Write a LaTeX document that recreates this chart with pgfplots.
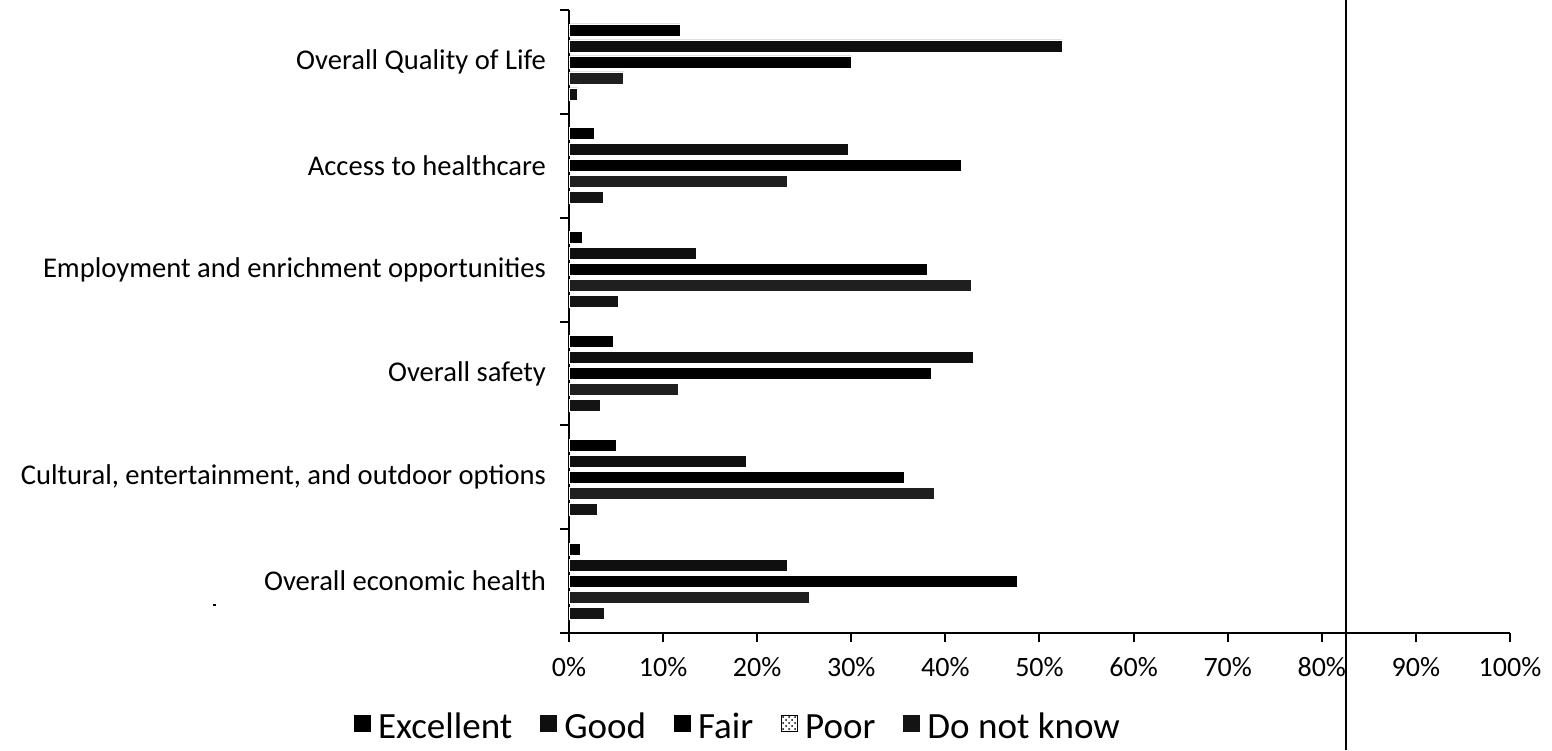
\documentclass[border=0pt]{standalone}
\usepackage{fontspec}
\setmainfont{Carlito}
\usepackage{pgfplots}
\pgfplotsset{compat=1.18}
\usepackage{pgfplotstable}
\usetikzlibrary{patterns}

% ratings, one row per topic (0 = top of chart), values in %
\pgfplotstableread{
idx excellent good fair poor dnk
0   11.8  52.4  30.0   5.8  0.9
1    2.7  29.7  41.7  23.2  3.7
2    1.4  13.5  38.1  42.8  5.3
3    4.7  43.0  38.5  11.6  3.3
4    5.0  18.9  35.6  38.8  3.0
5    1.2  23.2  47.7  25.5  3.8
}\ratings

\begin{document}
\begin{tikzpicture}
% whole picture: 1552x750 px at 0.5pt per px, axis corner at px (569,633)
\path[use as bounding box] (-284.5pt,-58.5pt) rectangle (491.5pt,316.5pt);
\begin{axis}[
    at={(0pt,0pt)}, anchor=south west,
    scale only axis,
    width=470.5pt, height=311.5pt,
    xbar=2pt, bar width=6pt,
    xmin=0, xmax=100,
    ymin=-0.5, ymax=5.5, y dir=reverse,
    axis x line*=bottom, axis y line*=left,
    axis line style={line width=1pt},
    tick align=outside,
    major tick length=4.5pt,
    tick style={line width=1pt, black},
    xtick={0,10,...,100},
    xticklabel={\pgfmathprintnumber{\tick}\%},
    x tick label style={font=\fontsize{14}{16}\selectfont, yshift=-4pt},
    /pgf/number format/assume math mode=true,
    ytick={-0.5,0.5,...,5.5},
    yticklabels={},
    extra y ticks={0,...,5},
    extra y tick labels={Overall Quality of Life, Access to healthcare, Employment and enrichment opportunities, Overall safety, {Cultural, entertainment, and outdoor options}, Overall economic health},
    extra y tick style={major tick length=0pt,
        yticklabel style={font=\fontsize{14.3}{16}\selectfont, xshift=-8pt}},
    every axis plot/.append style={draw=white, line width=0.4pt},
    legend style={at={(0.1796,-0.155)}, anchor=center, draw=none,
        inner sep=0pt, legend columns=-1, font=\fontsize{18.5}{20}\selectfont,
        nodes={text height=0.7em, text depth=0.2em, inner sep=1pt},
        /tikz/every odd column/.append style={column sep=2.5pt},
        /tikz/every even column/.append style={column sep=13pt}},
    legend image code/.code={\fill[#1,draw=none] (0pt,0.5pt) rectangle (8.5pt,9pt);},
]
\addplot[fill=black, bar shift=16pt] table[x=excellent, y=idx] {\ratings};
\addplot[fill=black!94, bar shift=8pt] table[x=good, y=idx] {\ratings};
\addplot[fill=black, bar shift=0pt] table[x=fair, y=idx] {\ratings};
\addplot[fill=black!88, bar shift=-8pt,
    legend image code/.code={\draw[black, line width=0.6pt, pattern=crosshatch dots] (0.3pt,0.8pt) rectangle (8.2pt,8.7pt);}]
    table[x=poor, y=idx] {\ratings};
\addplot[fill=black!92, bar shift=-16pt] table[x=dnk, y=idx] {\ratings};
\legend{Excellent, Good, Fair, Poor, Do not know}
\end{axis}
% scan artefacts: long vertical line and a small dash
\draw[line width=0.8pt] (388.5pt,-58.5pt) -- (388.5pt,316.5pt);
\fill (-178pt,13.5pt) rectangle (-176.5pt,14.5pt);
\end{tikzpicture}
\end{document}
